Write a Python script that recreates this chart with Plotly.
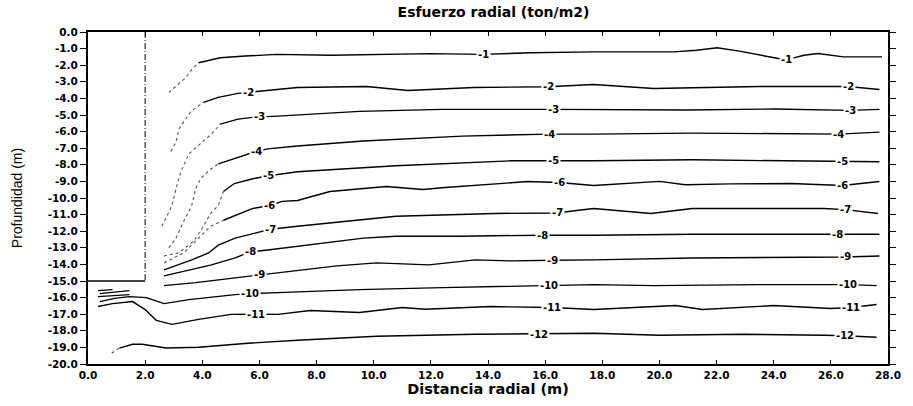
import numpy as np
import plotly.graph_objects as go

# Pile geometry (m)
pile_radius = 2.0
pile_depth = 15.0

# Contour levels of radial stress (ton/m2)
levels = [-1, -2, -3, -4, -5, -6, -7, -8, -9, -10, -11, -12]

# Solid part of each contour: radial distance (m) and depth (m)
main_x = {
    -1: [3.87, 4.63, 5.5, 6.6, 8.5, 10.5, 12.0, 13.8, 15.5, 17.7, 20.5, 21.3, 22.02, 22.8, 24.16, 24.5, 25.06, 25.55, 26.44, 27.79],
    -2: [4.04, 4.56, 5.25, 5.6, 6.3, 7.33, 9.75, 11.2, 13.5, 16.1, 17.7, 19.8, 23.5, 26.6, 27.7],
    -3: [4.63, 5.25, 5.84, 6.64, 9.5, 12.4, 16.3, 17.7, 21.0, 24.0, 26.7, 27.7],
    -4: [4.56, 5.6, 5.88, 6.29, 7.33, 9.64, 13.1, 16.14, 17.7, 21.15, 24.0, 26.27, 27.7],
    -5: [4.74, 5.12, 5.77, 6.33, 7.33, 10.78, 14.83, 16.3, 17.7, 21.15, 24.0, 26.4, 27.7],
    -6: [4.74, 5.15, 5.77, 6.36, 6.8, 7.33, 8.47, 10.44, 11.13, 11.72, 12.5, 15.38, 16.49, 17.7, 20.0, 20.9, 22.5, 24.6, 26.4, 27.7],
    -7: [2.66, 3.63, 4.22, 4.56, 5.15, 5.84, 6.39, 7.33, 10.78, 14.24, 16.42, 17.1, 17.7, 19.7, 21.15, 25.75, 26.5, 27.65],
    -8: [2.66, 3.53, 4.32, 5.15, 5.67, 6.29, 7.33, 9.64, 10.78, 13.0, 15.9, 17.7, 21.15, 24.0, 26.23, 27.7],
    -9: [2.66, 3.77, 5.15, 6.01, 6.64, 8.71, 10.1, 11.93, 13.55, 14.83, 16.25, 17.7, 21.15, 24.0, 26.5, 27.7],
    -10: [0.41, 0.93, 1.45, 2.04, 2.66, 3.53, 5.15, 5.67, 6.64, 9.5, 12.4, 16.14, 17.7, 19.8, 23.5, 26.6, 27.6],
    -11: [0.35, 0.86, 1.56, 2.0, 2.39, 2.94, 3.87, 5.01, 5.88, 6.64, 7.78, 9.5, 11.0, 11.8, 14.1, 16.25, 17.7, 20.57, 21.5, 24.0, 26.0, 26.7, 27.6],
    -12: [1.1, 1.56, 1.9, 2.73, 3.87, 5.6, 7.33, 10.1, 13.55, 15.8, 17.7, 20.0, 22.9, 25.75, 26.5, 27.6],
}
main_y = {
    -1: [-1.85, -1.55, -1.45, -1.35, -1.4, -1.35, -1.3, -1.35, -1.25, -1.2, -1.2, -1.1, -0.95, -1.15, -1.6, -1.65, -1.4, -1.3, -1.5, -1.5],
    -2: [-4.24, -3.94, -3.7, -3.64, -3.52, -3.34, -3.28, -3.52, -3.34, -3.3, -3.16, -3.4, -3.28, -3.28, -3.46],
    -3: [-5.55, -5.25, -5.13, -5.07, -4.78, -4.66, -4.66, -4.66, -4.7, -4.64, -4.72, -4.66],
    -4: [-7.94, -7.34, -7.2, -7.04, -6.87, -6.57, -6.27, -6.15, -6.15, -6.09, -6.1, -6.15, -6.03],
    -5: [-9.61, -9.13, -8.84, -8.66, -8.42, -8.06, -7.76, -7.76, -7.76, -7.7, -7.75, -7.8, -7.82],
    -6: [-11.34, -11.04, -10.63, -10.45, -10.2, -10.15, -9.61, -9.31, -9.43, -9.49, -9.37, -9.01, -9.07, -9.25, -9.0, -9.2, -9.15, -9.13, -9.25, -9.01],
    -7: [-14.33, -13.73, -13.31, -12.84, -12.42, -12.12, -11.88, -11.7, -11.1, -10.93, -10.9, -10.75, -10.63, -10.93, -10.63, -10.63, -10.7, -10.93],
    -8: [-14.69, -14.33, -14.03, -13.61, -13.25, -13.13, -12.9, -12.42, -12.3, -12.3, -12.24, -12.24, -12.18, -12.2, -12.18, -12.18],
    -9: [-15.28, -15.1, -14.81, -14.63, -14.51, -14.09, -13.91, -14.03, -13.73, -13.79, -13.75, -13.73, -13.61, -13.6, -13.55, -13.49],
    -10: [-16.24, -16.05, -15.94, -16.0, -16.36, -16.12, -15.82, -15.76, -15.7, -15.52, -15.4, -15.28, -15.22, -15.28, -15.22, -15.22, -15.28],
    -11: [-16.54, -16.36, -16.24, -16.72, -17.37, -17.61, -17.31, -17.01, -17.0, -17.01, -16.78, -16.9, -16.6, -16.7, -16.54, -16.6, -16.72, -16.48, -16.72, -16.48, -16.66, -16.6, -16.42],
    -12: [-19.04, -18.81, -18.81, -19.04, -18.99, -18.75, -18.57, -18.33, -18.21, -18.2, -18.15, -18.27, -18.21, -18.27, -18.3, -18.39],
}

# Faint branches where the contours bend down along the pile shaft
faint_x = {
    -1: [2.83, 3.42, 3.63, 3.87],
    -2: [2.9, 3.08, 3.18, 3.6, 4.04],
    -3: [2.59, 2.94, 3.08, 3.25, 3.53, 4.32, 4.63],
    -4: [2.83, 3.08, 3.28, 3.63, 3.77, 3.94, 4.22, 4.56],
    -5: [2.66, 3.18, 3.7, 4.04, 4.29, 4.56, 4.74],
    -6: [2.66, 3.35, 3.87, 4.29, 4.74],
    -12: [0.83, 1.1],
}
faint_y = {
    -1: [-3.64, -2.75, -2.27, -1.85],
    -2: [-7.2, -6.63, -5.85, -4.78, -4.24],
    -3: [-11.7, -10.45, -9.43, -8.42, -7.34, -6.15, -5.55],
    -4: [-13.0, -12.42, -11.64, -10.45, -9.43, -8.84, -8.36, -7.94],
    -5: [-13.49, -13.3, -12.6, -11.7, -10.93, -10.45, -9.61],
    -6: [-13.91, -13.3, -12.42, -11.7, -11.34],
    -12: [-19.34, -19.04],
}

# Short contour pieces below the pile tip
tip_x = [[0.35, 0.86], [0.41, 1.45], [0.35, 1.45]]
tip_y = [[-15.58, -15.52], [-15.76, -15.58], [-15.94, -15.82]]

# Where the level labels sit along each contour (radial distance, m)
label_at = {
    -1: [13.83, 24.44],
    -2: [5.6, 16.1, 26.6],
    -3: [6.0, 16.3, 26.7],
    -4: [5.88, 16.14, 26.27],
    -5: [6.33, 16.3, 26.4],
    -6: [6.36, 16.49, 26.4],
    -7: [6.39, 16.42, 26.5],
    -8: [5.67, 15.9, 26.23],
    -9: [6.01, 16.25, 26.5],
    -10: [5.67, 16.14, 26.6],
    -11: [5.88, 16.25, 26.7],
    -12: [15.8, 26.5],
}

x_ticks = list(range(0, 29, 2))
y_ticks = list(range(0, -21, -1))

fig = go.Figure()

line_style = dict(color="black", width=1.4)
for lv in levels:
    if lv in faint_x:
        fig.add_trace(go.Scatter(x=faint_x[lv], y=faint_y[lv], mode="lines",
                                 line=dict(color="#555555", width=1.1, dash="dot"),
                                 showlegend=False, hoverinfo="skip"))
    fig.add_trace(go.Scatter(x=main_x[lv], y=main_y[lv], mode="lines",
                             line=line_style, showlegend=False,
                             hoverinfo="skip"))

for xs, ys in zip(tip_x, tip_y):
    fig.add_trace(go.Scatter(x=xs, y=ys, mode="lines", line=line_style,
                             showlegend=False, hoverinfo="skip"))

# Pile outline: shaft face and tip
fig.add_trace(go.Scatter(x=[pile_radius, pile_radius], y=[0, -pile_depth],
                         mode="lines",
                         line=dict(color="black", width=1, dash="6px,2px,1px,2px"),
                         showlegend=False, hoverinfo="skip"))
fig.add_trace(go.Scatter(x=[0, pile_radius], y=[-pile_depth, -pile_depth],
                         mode="lines", line=dict(color="black", width=1.4),
                         showlegend=False, hoverinfo="skip"))

# Level labels placed on their own contour
label_font = dict(family="DejaVu Sans", size=10, color="black", weight="bold")
for lv in levels:
    for xl in label_at[lv]:
        yl = float(np.interp(xl, main_x[lv], main_y[lv]))
        fig.add_annotation(x=xl, y=yl, text=str(lv), showarrow=False,
                           font=label_font, bgcolor="white", borderpad=1)

tick_font = dict(family="DejaVu Sans", size=10.5, color="black", weight="bold")
fig.update_layout(
    width=913, height=406,
    margin=dict(l=88, r=13, t=32, b=39),
    paper_bgcolor="white", plot_bgcolor="white",
    title=dict(text="Esfuerzo radial (ton/m2)", x=0.5405, xanchor="center",
               y=0.97, yanchor="middle",
               font=dict(family="DejaVu Sans", size=14, color="black",
                         weight="bold")),
    xaxis=dict(range=[0, 28], tickvals=x_ticks,
               ticktext=[f"{v:.1f}" for v in x_ticks],
               ticks="inside", ticklen=4, tickcolor="black", tickwidth=1,
               showline=True, linecolor="black", linewidth=2,
               mirror="ticks", showgrid=False, zeroline=False,
               tickfont=tick_font,
               title=dict(text="Distancia radial (m)", standoff=3,
                          font=dict(family="DejaVu Sans", size=14.5,
                                    color="black", weight="bold"))),
    yaxis=dict(range=[-20, 0], tickvals=y_ticks,
               ticktext=[f"{v:.1f}" for v in y_ticks],
               ticks="outside", ticklen=6, tickcolor="black", tickwidth=1,
               showline=True, linecolor="black", linewidth=2,
               mirror="ticks", showgrid=False, zeroline=False,
               tickfont=tick_font,
               title=dict(text="Profundidad (m)", standoff=22,
                          font=dict(family="Liberation Sans Narrow, Liberation Sans",
                                    size=14, color="black"))),
)

fig.write_html("out.html")
